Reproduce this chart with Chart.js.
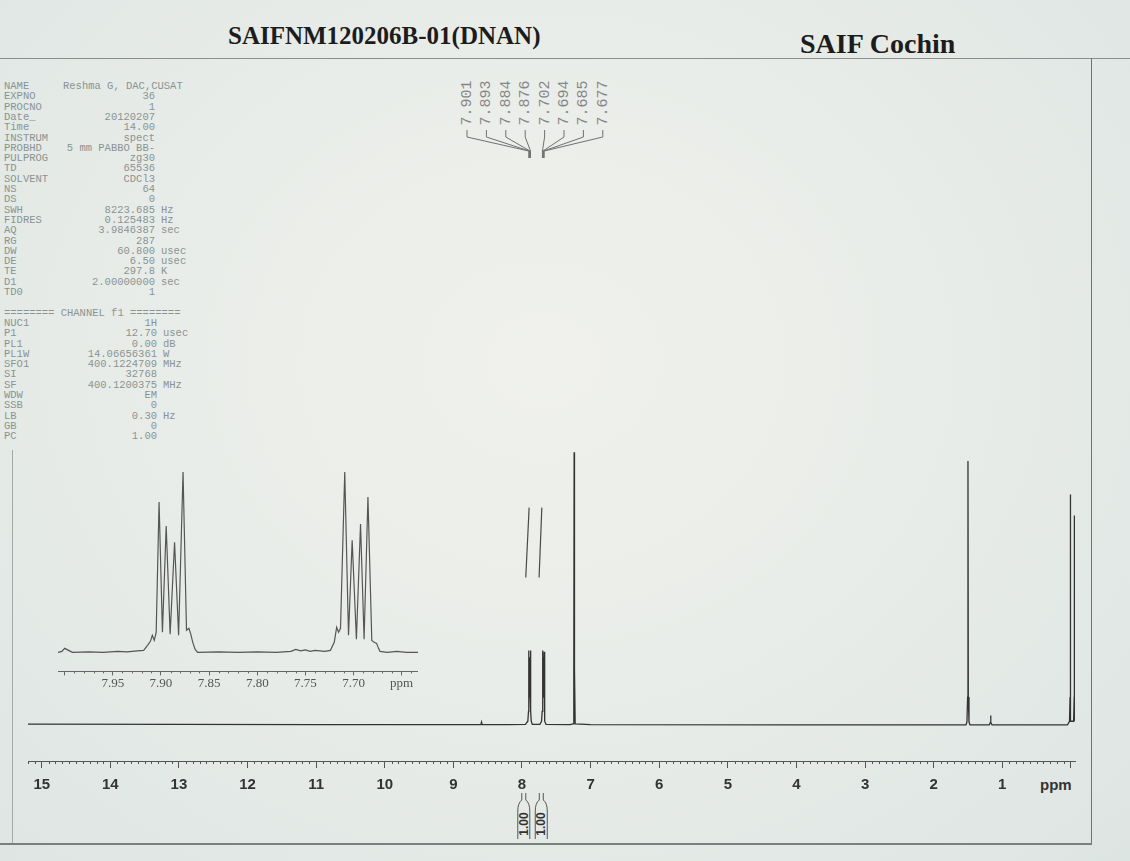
<!DOCTYPE html>
<html><head><meta charset="utf-8">
<script src="https://cdn.jsdelivr.net/npm/chart.js@4.4.1/dist/chart.umd.min.js"></script>
<style>
html,body{margin:0;padding:0;}
body{width:1130px;height:861px;position:relative;overflow:hidden;
 background:radial-gradient(ellipse at 48% 42%, #f0f1ec 0%, #e8ece8 50%, #dde5e3 100%);
 font-family:"Liberation Sans",Arial,sans-serif;}
canvas{position:absolute;}
.t{position:absolute;white-space:pre;}
.p{position:absolute;white-space:pre;font-family:"Liberation Mono","DejaVu Sans Mono",monospace;font-size:10.5px;line-height:12px;color:#8a9393;}
.rl{position:absolute;white-space:pre;transform:translate(-50%,-50%) rotate(-90deg);}
.ln{position:absolute;background:#6f7473;}
</style></head>
<body>
<div id="texts"></div>
<canvas id="main" width="1130" height="861" style="left:0;top:0;"></canvas>
<canvas id="inset" width="360" height="241" style="left:58px;top:450px;"></canvas>
<script>
// ---------------- data ----------------
const titleText = 'SAIFNM120206B-01(DNAN)';
const siteText = 'SAIF Cochin';

const paramNames  = ['NAME','EXPNO','PROCNO','Date_','Time','INSTRUM','PROBHD','PULPROG','TD','SOLVENT','NS','DS','SWH','FIDRES','AQ','RG','DW','DE','TE','D1','TD0'];
const paramValues = ['Reshma G, DAC,CUSAT','36','1','20120207','14.00','spect','5 mm PABBO BB-','zg30','65536','CDCl3','64','0','8223.685','0.125483','3.9846387','287','60.800','6.50','297.8','2.00000000','1'];
const paramUnits  = ['','','','','','','','','','','','','Hz','Hz','sec','','usec','usec','K','sec',''];
const channelHeader = '======== CHANNEL f1 ========';
const channelNames  = ['NUC1','P1','PL1','PL1W','SFO1','SI','SF','WDW','SSB','LB','GB','PC'];
const channelValues = ['1H','12.70','0.00','14.06656361','400.1224709','32768','400.1200375','EM','0','0.30','0','1.00'];
const channelUnits  = ['','usec','dB','W','MHz','','MHz','','','Hz','',''];

const peakLabels = ['7.901','7.893','7.884','7.876','7.702','7.694','7.685','7.677'];
const peakPpm    = [7.901, 7.893, 7.884, 7.876, 7.702, 7.694, 7.685, 7.677];

const integralPpm    = [7.974, 7.719];
const integralValues = ['1.00','1.00'];

// main spectrum (ppm, intensity)
const mainPpm = [15.2,13.0,11.0,9.0,8.6,8.59,8.58,8.2,7.95,7.915,7.905,7.901,7.897,7.893,7.889,7.884,7.880,7.876,7.872,7.865,7.85,
  7.74,7.715,7.706,7.702,7.698,7.694,7.690,7.685,7.681,7.677,7.673,7.666,7.65,7.30,7.255,7.245,7.24,7.235,7.225,7.0,4.0,2.0,
  1.53,1.515,1.505,1.50,1.495,1.485,1.47,1.19,1.175,1.17,1.165,1.15,0.05,0.02,0.012,0.01,0.008,0.0,-0.04,-0.048,-0.05,-0.052,-0.06];
const mainInt = [0.5,0.4,0.3,0.3,0.3,1.2,0.3,0.3,0.4,1.5,5,26.4,10,24,10,23,10,26.4,5,1.5,0.4,
  0.4,1.5,5,26.4,10,23,10,24,10,26,5,1.5,0.4,0.3,0.6,20,96.2,20,0.6,0.3,0.2,0.2,
  0.2,1.2,10,93.1,10,1.2,0.2,0.2,1,3.5,1,0.2,0.2,1.5,10,81.3,10,1.5,1.5,10,73.9,10,1.5];
// truncated upper parts of the two multiplets [ppm, intensity]
const breakA = [[7.896,76.7],[7.945,52.1]];
const breakB = [[7.711,76.7],[7.751,52.1]];

const mainTickValues = [15,14,13,12,11,10,9,8,7,6,5,4,3,2,1,0];
const mainTickLabels = ['15','14','13','12','11','10','9','8','7','6','5','4','3','2','1',''];

// inset expansion (ppm, intensity)
const insetPpm = [8.007,8.003,8.000,7.996,7.992,7.975,7.960,7.945,7.935,7.925,7.918,7.914,7.911,7.909,7.907,7.905,7.902,7.8985,7.8946,7.8905,7.8859,7.8817,7.8771,7.8735,7.8710,7.8690,7.8670,7.8645,7.8620,7.84,7.82,7.80,7.78,7.765,7.760,7.755,7.750,7.745,7.740,7.730,7.724,7.720,7.7175,7.7155,7.7135,7.7091,7.7052,7.7014,7.6970,7.6927,7.6890,7.6850,7.6810,7.6785,7.6760,7.6740,7.6725,7.665,7.655,7.645,7.633];
const insetInt = [0,1,4,2,0,0.5,0,1,0.5,1.5,2,7,11,17,12,20,150,20,126,18,110,17,180,22,24,18,10,3,0,0.5,0,0.5,0,1,3,1.5,2.5,1,2,1,2,10,25,20,24,180,17,112,13,128,13,155,12,10,9,4,1,0,1,0,0];
const insetTickValues = [8.00,7.95,7.90,7.85,7.80,7.75,7.70,7.65];
const insetTickLabels = ['','7.95','7.90','7.85','7.80','7.75','7.70','ppm'];

// ---------------- static text ----------------
const T = document.getElementById('texts');
function add(cls, txt, css){const d=document.createElement('div');d.className=cls;d.textContent=txt;Object.assign(d.style,css);T.appendChild(d);return d;}

add('t', titleText, {left:'228px',top:'22px',font:'bold 25px "Liberation Serif","Times New Roman",serif',color:'#1c1c1c'});
add('t', siteText, {left:'800px',top:'28px',font:'bold 28px "Liberation Serif","Times New Roman",serif',color:'#1c1c1c'});

// frame lines
add('ln','',{left:'0px',top:'58px',width:'1130px',height:'1px',background:'#8a8f8e'});
add('ln','',{left:'1091px',top:'58px',width:'1px',height:'786px'});
add('ln','',{left:'0px',top:'843px',width:'1092px',height:'2px',background:'#7b807f'});
add('ln','',{left:'12px',top:'450px',width:'1px',height:'393px',background:'#a3a9a8'});

const rowY = i => 86 + i*10.3 - 6;
paramNames.forEach((n,i)=>{
  add('p', n, {left:'4px', top:rowY(i)+'px'});
  if(i===0){ add('p', paramValues[i], {left:'63px', top:rowY(i)+'px'}); }
  else { add('p', paramValues[i], {left:'0px', width:'155px', textAlign:'right', top:rowY(i)+'px'}); }
  if(paramUnits[i]) add('p', paramUnits[i], {left:'161px', top:rowY(i)+'px'});
});
add('p', channelHeader, {left:'4px', top:rowY(22)+'px'});
channelNames.forEach((n,k)=>{
  const i = 23+k;
  add('p', n, {left:'4px', top:rowY(i)+'px'});
  add('p', channelValues[k], {left:'0px', width:'157px', textAlign:'right', top:rowY(i)+'px'});
  if(channelUnits[k]) add('p', channelUnits[k], {left:'163px', top:rowY(i)+'px'});
});

const labelX = i => 467 + i*19.4;
peakLabels.forEach((s,i)=>{
  add('rl', s, {left:labelX(i)+'px', top:'103px', font:'15px "Liberation Mono","DejaVu Sans Mono",monospace', color:'#858787'});
});

add('t','ppm',{left:'1040px',top:'776px',font:'bold 15px "Liberation Sans",Arial,sans-serif',color:'#333'});

// ---------------- charts ----------------
const annotPlugin = {
  id:'annot',
  afterDraw(chart){
    const ctx = chart.ctx, xs = chart.scales.x, ay = chart.chartArea.bottom;
    ctx.save();
    ctx.strokeStyle = '#555'; ctx.lineWidth = 1;
    ctx.beginPath();
    for(let k=152;k>0;k--){ if(k%10===0) continue; const px=Math.round(xs.getPixelForValue(k/10))+0.5; ctx.moveTo(px,ay); ctx.lineTo(px,ay+3); }
    ctx.stroke();
    // connectors from peak labels
    ctx.strokeStyle = '#707070';
    peakPpm.forEach((p,i)=>{
      const lx = labelX(i), px = xs.getPixelForValue(p);
      ctx.beginPath(); ctx.moveTo(lx,130); ctx.lineTo(lx,137); ctx.lineTo(px,151); ctx.lineTo(px,158); ctx.stroke();
    });
    // integral brackets
    ctx.strokeStyle = '#555';
    integralPpm.forEach(p=>{
      const cx = xs.getPixelForValue(p);
      ctx.beginPath();
      ctx.moveTo(cx-6,839); ctx.lineTo(cx-6,811); ctx.quadraticCurveTo(cx-6,803,cx-2,800); ctx.lineTo(cx-2,793);
      ctx.moveTo(cx+6,839); ctx.lineTo(cx+6,811); ctx.quadraticCurveTo(cx+6,803,cx+2,800); ctx.lineTo(cx+2,793);
      ctx.stroke();
    });
    ctx.restore();
  }
};

const lineDs = (pts, color, w) => ({data:pts, borderColor:color, borderWidth:w, pointRadius:0, tension:0, fill:false});

const mainChart = new Chart(document.getElementById('main'), {
  type:'line',
  data:{datasets:[
    lineDs(mainPpm.map((p,i)=>({x:p,y:mainInt[i]})), '#333', 1.3),
    lineDs(breakA.map(a=>({x:a[0],y:a[1]})), '#4a4a4a', 1.2),
    lineDs(breakB.map(a=>({x:a[0],y:a[1]})), '#4a4a4a', 1.2)
  ]},
  options:{
    responsive:false, animation:false, events:[],
    layout:{padding:{left:28,right:55,top:440,bottom:59}},
    plugins:{legend:{display:false},tooltip:{enabled:false}},
    scales:{
      x:{type:'linear', reverse:true, min:-0.06, max:15.2,
        afterBuildTicks:s=>{ s.ticks = mainTickValues.map(v=>({value:v})); },
        ticks:{autoSkip:false, maxRotation:0, padding:8, color:'#333',
          font:{family:'"Liberation Sans", Arial, sans-serif', size:15, weight:'bold'},
          callback:(v,i)=>mainTickLabels[i]},
        grid:{drawOnChartArea:false, tickLength:7, color:'#555', tickColor:'#555'},
        border:{display:true, color:'#555', width:1}},
      y:{display:false, min:-12.5, max:100.5}
    }
  },
  plugins:[annotPlugin]
});

// integral values text
const xsMain = mainChart.scales.x;
integralPpm.forEach((p,i)=>{
  add('rl', integralValues[i], {left:xsMain.getPixelForValue(p)+'px', top:'824px', font:'bold 12px "Liberation Sans",Arial,sans-serif', color:'#333'});
});

const insetTickPlugin = {
  id:'insetTicks',
  afterDraw(chart){
    const ctx=chart.ctx, xs=chart.scales.x, ay=chart.chartArea.bottom;
    ctx.save(); ctx.strokeStyle='#666'; ctx.lineWidth=1; ctx.beginPath();
    for(let k=800;k>=764;k--){ if(k%5===0) continue; const px=Math.round(xs.getPixelForValue(k/100))+0.5; ctx.moveTo(px,ay); ctx.lineTo(px,ay+2); }
    ctx.stroke(); ctx.restore();
  }
};

new Chart(document.getElementById('inset'), {
  type:'line',
  data:{datasets:[ lineDs(insetPpm.map((p,i)=>({x:p,y:insetInt[i]})), '#555', 1.2) ]},
  options:{
    responsive:false, animation:false, events:[],
    layout:{padding:0},
    plugins:{legend:{display:false},tooltip:{enabled:false}},
    scales:{
      x:{type:'linear', reverse:true, min:7.633, max:8.007,
        afterBuildTicks:s=>{ s.ticks = insetTickValues.map(v=>({value:v})); },
        ticks:{autoSkip:false, maxRotation:0, padding:0, color:'#555',
          font:{family:'"Liberation Serif","Times New Roman",serif', size:13},
          callback:(v,i)=>insetTickLabels[i]},
        grid:{drawOnChartArea:false, tickLength:4, color:'#666', tickColor:'#666'},
        border:{display:true, color:'#666', width:1}},
      y:{display:false, min:-19, max:202}
    }
  },
  plugins:[insetTickPlugin]
});
</script>
</body></html>
